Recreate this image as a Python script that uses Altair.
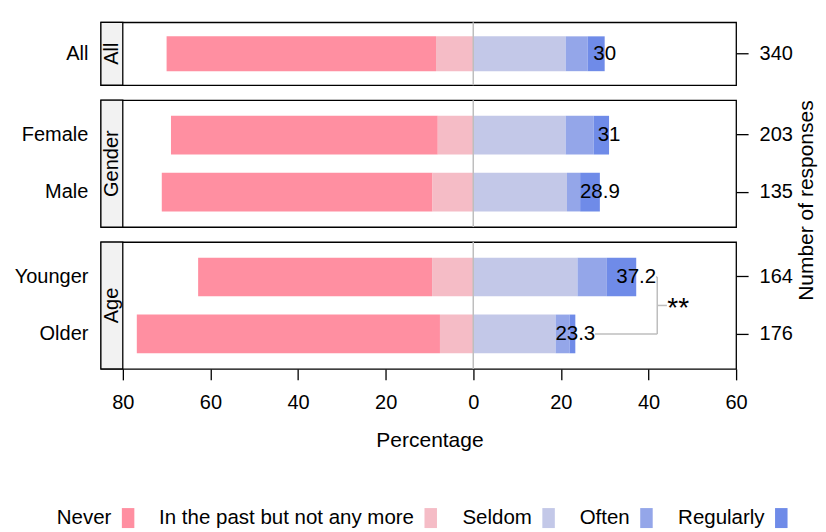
import altair as alt
import pandas as pd

# ---------------- data ----------------
categories = ["All", "Female", "Male", "Younger", "Older"]
groups = ["All", "Gender", "Gender", "Age", "Age"]
responses = [340, 203, 135, 164, 176]
never = [61.5, 60.9, 61.8, 53.4, 69.2]
past = [8.5, 8.1, 9.3, 9.4, 7.6]
seldom = [21.1, 21.1, 21.4, 23.8, 18.8]
often = [5.0, 6.4, 3.0, 6.7, 3.2]
regularly = [3.9, 3.5, 4.5, 6.7, 1.3]
positive_total = [30, 31, 28.9, 37.2, 23.3]

levels = ["Never", "In the past but not any more", "Seldom", "Often", "Regularly"]
colors = ["#FF8FA1", "#F5BCC6", "#C3C8E8", "#94A6E9", "#6F8BE8"]
signs = [-1, -1, 1, 1, 1]
stack_order = [2, 1, 3, 4, 5]
series = [never, past, seldom, often, regularly]

panel_groups = ["All", "Gender", "Age"]
panel_heights = [63, 127, 127]
sig_pair = ["Younger", "Older"]
sig_text = "**"

rows = []
for i, c in enumerate(categories):
    for j, lv in enumerate(levels):
        rows.append(dict(category=c, group=groups[i], level=lv,
                         value=signs[j] * series[j][i], order=stack_order[j]))
df = pd.DataFrame(rows)
lab = pd.DataFrame(dict(category=categories, group=groups,
                        total=positive_total, n=responses))

XMIN, XMAX = -85, 60
STRIP_END = -80
W = 636
FONT = "Liberation Sans"
FS = 20
PI, PO = 0.32, 0.274

xscale = alt.Scale(domain=[XMIN, XMAX], nice=False, zero=False)
color_scale = alt.Scale(domain=levels, range=colors)
legend = alt.Legend(
    title=None, orient="none", legendX=17, legendY=486, direction="horizontal",
    labelFontSize=20.5, labelFont=FONT, labelColor="black", labelAlign="right",
    labelLimit=0,
    labelOffset={"expr": "-27"}, symbolType="M-0.625,-1H0.625V1H-0.625Z", symbolSize=400,
    symbolStrokeWidth=0, symbolOpacity=1, columnPadding=24, padding=0,
)

count_expr = " : ".join(
    f"datum.value == '{c}' ? '{n}'" for c, n in zip(categories, responses)
) + " : ''"


def panel(gname, height, last, with_title):
    cats = [c for c, g in zip(categories, groups) if g == gname]
    ysc = alt.Scale(domain=cats, paddingInner=PI, paddingOuter=PO)
    step = height / (len(cats) - PI + 2 * PO)
    d = df[df.group == gname]
    l = lab[lab.group == gname]

    def X(field):
        if last:
            return alt.X(field, scale=xscale)
        return alt.X(field, scale=xscale, axis=None)

    def Yc(field):
        return alt.Y(field, scale=ysc, sort=cats, axis=None)

    if last:
        xaxis = alt.Axis(values=list(range(-80, 61, 20)), labelExpr="abs(datum.value)",
                         tickSize=11, tickColor="black", tickWidth=1.3, domain=False,
                         grid=False, labelFontSize=FS, labelColor="black", labelPadding=13,
                         labelFlush=False, labelOverlap=False, title="Percentage",
                         titleFontSize=21, titleFontWeight="normal", titleColor="black",
                         titleX=(W - 22) / 2 + 22, titlePadding=17)
    else:
        xaxis = None

    yleft = alt.Y("category:N", scale=ysc, sort=cats,
                  axis=alt.Axis(title=None, ticks=False, domain=False, grid=False,
                                labelPadding=13, labelFontSize=FS, labelColor="black"))

    bars = alt.Chart(d).mark_bar().encode(
        x=alt.X("value:Q", stack="zero", scale=xscale, axis=xaxis),
        y=yleft,
        color=alt.Color("level:N", scale=color_scale, legend=legend, sort=levels),
        order=alt.Order("order:Q"),
    )

    zero = alt.Chart(pd.DataFrame({"x": [0]})).mark_rule(
        color="#BEBEBE", strokeWidth=1.5).encode(
        x=X("x:Q"), y=alt.value(0), y2=alt.value("height"))

    strip_df = pd.DataFrame({"x": [XMIN], "x2": [STRIP_END], "label": [gname],
                             "xm": [(XMIN + STRIP_END) / 2]})
    strip = alt.Chart(strip_df).mark_rect(
        fill="#F2F2F2", stroke="black", strokeWidth=1.3).encode(
        x=X("x:Q"), x2="x2:Q", y=alt.value(0), y2=alt.value("height"))
    strip_text = alt.Chart(strip_df).mark_text(
        angle=270, fontSize=FS, font=FONT, align="center", baseline="middle",
        color="black").encode(
        x=X("xm:Q"), y=alt.value(height / 2), text="label:N")

    labels = alt.Chart(l).mark_text(
        fontSize=20.5, font=FONT, align="center", baseline="middle", color="black").encode(
        x=X("total:Q"), y=Yc("category:N"), text=alt.Text("total:Q"))

    raxis = alt.Axis(orient="right", labelExpr=count_expr, tickSize=12, tickColor="black",
                     tickWidth=1.3, domain=False, grid=False, labelPadding=11,
                     labelFontSize=FS, labelColor="black",
                     title="Number of responses" if with_title else None,
                     titleFontSize=21, titleFontWeight="normal", titleColor="black",
                     titleAngle=270, titleBaseline="top", titleAlign="center",
                     titleY=100, titlePadding=3)
    right = alt.Chart(l).mark_point(opacity=0).encode(
        x=alt.value(0),
        y=alt.Y("category:N", scale=ysc, sort=cats, axis=raxis))

    layers = [bars, strip, zero, labels, strip_text]

    if all(s in cats for s in sig_pair):
        s = l.set_index("category").loc[sig_pair].reset_index()
        half_label = 4.5
        bx = s.total.max() + 4.8
        s["xs"] = s.total + half_label
        s["bx"] = bx
        horiz = alt.Chart(s).mark_rule(color="#BEBEBE", strokeWidth=1.5).encode(
            x=X("xs:Q"), x2="bx:Q", y=Yc("category:N"))
        vdf = pd.DataFrame({"bx": [bx], "a": [sig_pair[0]], "b": [sig_pair[1]]})
        vert = alt.Chart(vdf).mark_rule(color="#BEBEBE", strokeWidth=1.5).encode(
            x=X("bx:Q"), y=Yc("a:N"), y2="b:N")
        mdf = pd.DataFrame({"bx": [bx], "bx2": [bx + 2.2], "tx": [bx + 2.3],
                            "a": [sig_pair[0]], "t": [sig_text]})
        mid = alt.Chart(mdf).mark_rule(color="#BEBEBE", strokeWidth=1.5,
                                       yOffset=step / 2).encode(
            x=X("bx:Q"), x2="bx2:Q", y=Yc("a:N"))
        star = alt.Chart(mdf).mark_text(fontSize=28, font=FONT, align="left",
                                        baseline="alphabetic", color="black",
                                        yOffset=step / 2 + 12).encode(
            x=X("tx:Q"), y=Yc("a:N"), text="t:N")
        layers += [horiz, vert, mid, star]

    layers.append(right)
    return alt.layer(*layers).resolve_axis(y="independent").properties(
        width=W, height=height)


panels = [panel(g, h, i == 2, g == "Gender")
          for i, (g, h) in enumerate(zip(panel_groups, panel_heights))]

chart = alt.vconcat(*panels, spacing=15, bounds="flush").resolve_scale(
    y="independent", x="independent", color="shared").properties(
    padding={"left": 5, "top": 12, "right": 0, "bottom": 0}
).configure(font=FONT).configure_view(stroke="black", strokeWidth=1.3)

chart.save("out.html", embed_options={"renderer": "svg", "actions": False})
